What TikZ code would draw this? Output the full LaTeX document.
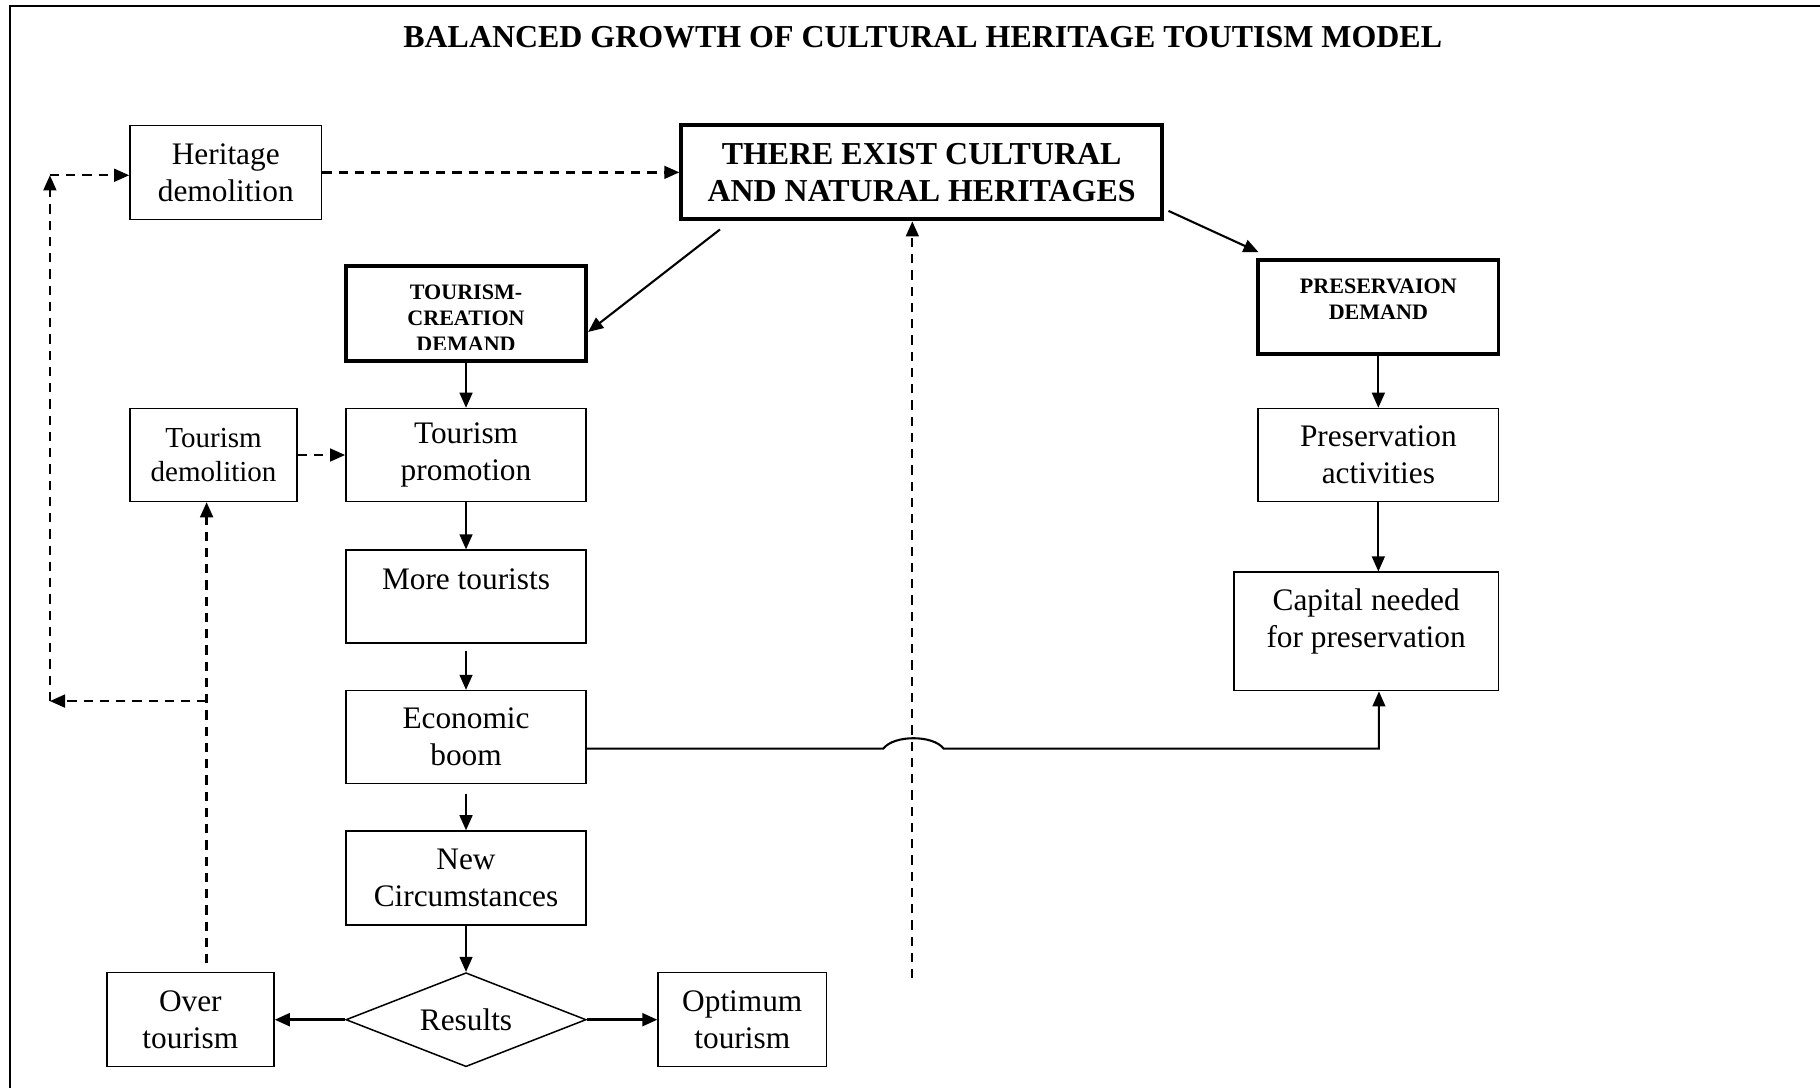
\documentclass[tikz,border=0pt]{standalone}
\usepackage{fontspec}
\setmainfont{Liberation Serif}
\usetikzlibrary{arrows.meta,shapes.geometric,calc}
\begin{document}
\begin{tikzpicture}[x=1pt,y=-1pt,
  box/.style={draw,line width=1.3pt,inner sep=0pt,align=center,font=\fontsize{27}{32}\selectfont},
  tbox/.style={draw,line width=3.4pt,inner sep=0pt},
  txt/.style={inner sep=0pt,align=center,font=\fontsize{27}{32}\selectfont},
  sbold/.style={inner sep=0pt,align=center,font=\fontsize{19}{22.5}\selectfont\bfseries},
  tip/.style={-{Triangle[length=13pt,width=11pt]}},
  con/.style={line width=1.8pt,tip},
  dsh/.style={line width=2pt,dash pattern=on 8pt off 6pt,tip},
]
\useasboundingbox[fill=white] (0,0) rectangle (1568,937);
% frame
\draw[line width=1.8pt] (8.5,940) -- (8.5,5.5) -- (1570,5.5);
% title
\node[inner sep=0pt,font=\fontsize{27.5}{32}\selectfont\bfseries] (title) at (795,32) {BALANCED GROWTH OF CULTURAL HERITAGE TOUTISM MODEL};
% nodes
\node[box,minimum width=165pt,minimum height=81pt] (hd) at (194.5,148.5) {Heritage\\demolition};
\node[tbox,align=center,minimum width=414pt,minimum height=81pt,font=\fontsize{27.5}{32}\selectfont\bfseries] (ex) at (794,148.5) {THERE EXIST CULTURAL\\AND NATURAL HERITAGES};
\node[tbox,minimum width=207pt,minimum height=82pt] (tc) at (401.5,270) {};
\begin{scope}
  \clip (298,229) rectangle (505,301);
  \node[sbold,anchor=north] (tctext) at (401.5,245) {TOURISM-\\CREATION\\DEMAND};
\end{scope}
\node[tbox,minimum width=207pt,minimum height=81pt] (pres) at (1187.5,264.5) {};
\node[sbold,anchor=north] (prestext) at (1187.5,240) {PRESERVAION\\DEMAND};
\node[box,minimum width=144pt,minimum height=80pt,font=\fontsize{25}{29}\selectfont] (td) at (184,392) {Tourism\\demolition};
\node[box,minimum width=207pt,minimum height=80pt] (tp) at (401.5,392) {Tourism\\promotion};
\node[box,minimum width=207pt,minimum height=80pt] (more) at (401.5,514) {};
\node[txt] (moretext) at (401.5,499) {More tourists};
\node[box,minimum width=207pt,minimum height=80pt] (econ) at (401.5,635) {Economic\\boom};
\node[box,minimum width=207pt,minimum height=81pt] (newc) at (401.5,756.5) {New\\Circumstances};
\node[box,shape=diamond,aspect=2.55,minimum width=207pt,minimum height=81pt] (res) at (401.5,878.5) {Results};
\node[box,minimum width=144pt,minimum height=81pt] (over) at (164,878.5) {Over\\tourism};
\node[box,minimum width=145pt,minimum height=81pt] (opt) at (639.5,878.5) {Optimum\\tourism};
\node[box,minimum width=207pt,minimum height=80pt] (pa) at (1187.5,392) {Preservation\\activities};
\node[box,minimum width=228pt,minimum height=102pt] (cap) at (1177,544) {};
\node[txt] (captext) at (1177,535.5) {Capital needed\\for preservation};
% coordinates
\coordinate (ob) at (178,830);
\coordinate (lp) at (178,604);
\coordinate (ll) at (43,604);
\coordinate (lt) at (43,151);
\coordinate (vb) at (786,843);
\coordinate (h1) at (761,645);
\coordinate (h2) at (813,645);
\coordinate (cj) at (1188,645);
% solid connectors
\draw[con] ($(ex.south west)+(35,7)$) -- ($(tc.east)+(0,16)$);
\draw[con] ($(ex.south east)+(4,-9)$) -- ($(pres.north west)+(2,-5)$);
\draw[con] (tc.south) -- (tp.north);
\draw[con] (tp.south) -- (more.north);
\draw[con] ($(more.south)+(0,6)$) -- (econ.north);
\draw[con] ($(econ.south)+(0,8)$) -- (newc.north);
\draw[con] (newc.south) -- (res.north);
\draw[con,line width=2.4pt] (res.west) -- (over.east);
\draw[con,line width=2.4pt] (res.east) -- (opt.west);
\draw[con] (pres.south) -- (pa.north);
\draw[con] (pa.south) -- (pa.south |- cap.north);
\draw[con] ($(econ.east)+(0,10)$) -- (h1) .. controls (770,633) and (804,633) .. (h2) -- (cj) -- (cj |- cap.south);
% dashed connectors
\draw[dsh] (hd.east) -- (ex.west);
\draw[dsh] (td.east) -- (tp.west);
\draw[dsh] (vb) -- (vb |- ex.south);
\draw[dsh] (ob) -- (lp |- td.south);
\draw[dsh] (lp) -- (ll);
\draw[dsh] (ll) -- (lt);
\draw[dsh] (lt) -- (hd.west |- lt);
\end{tikzpicture}
\end{document}
